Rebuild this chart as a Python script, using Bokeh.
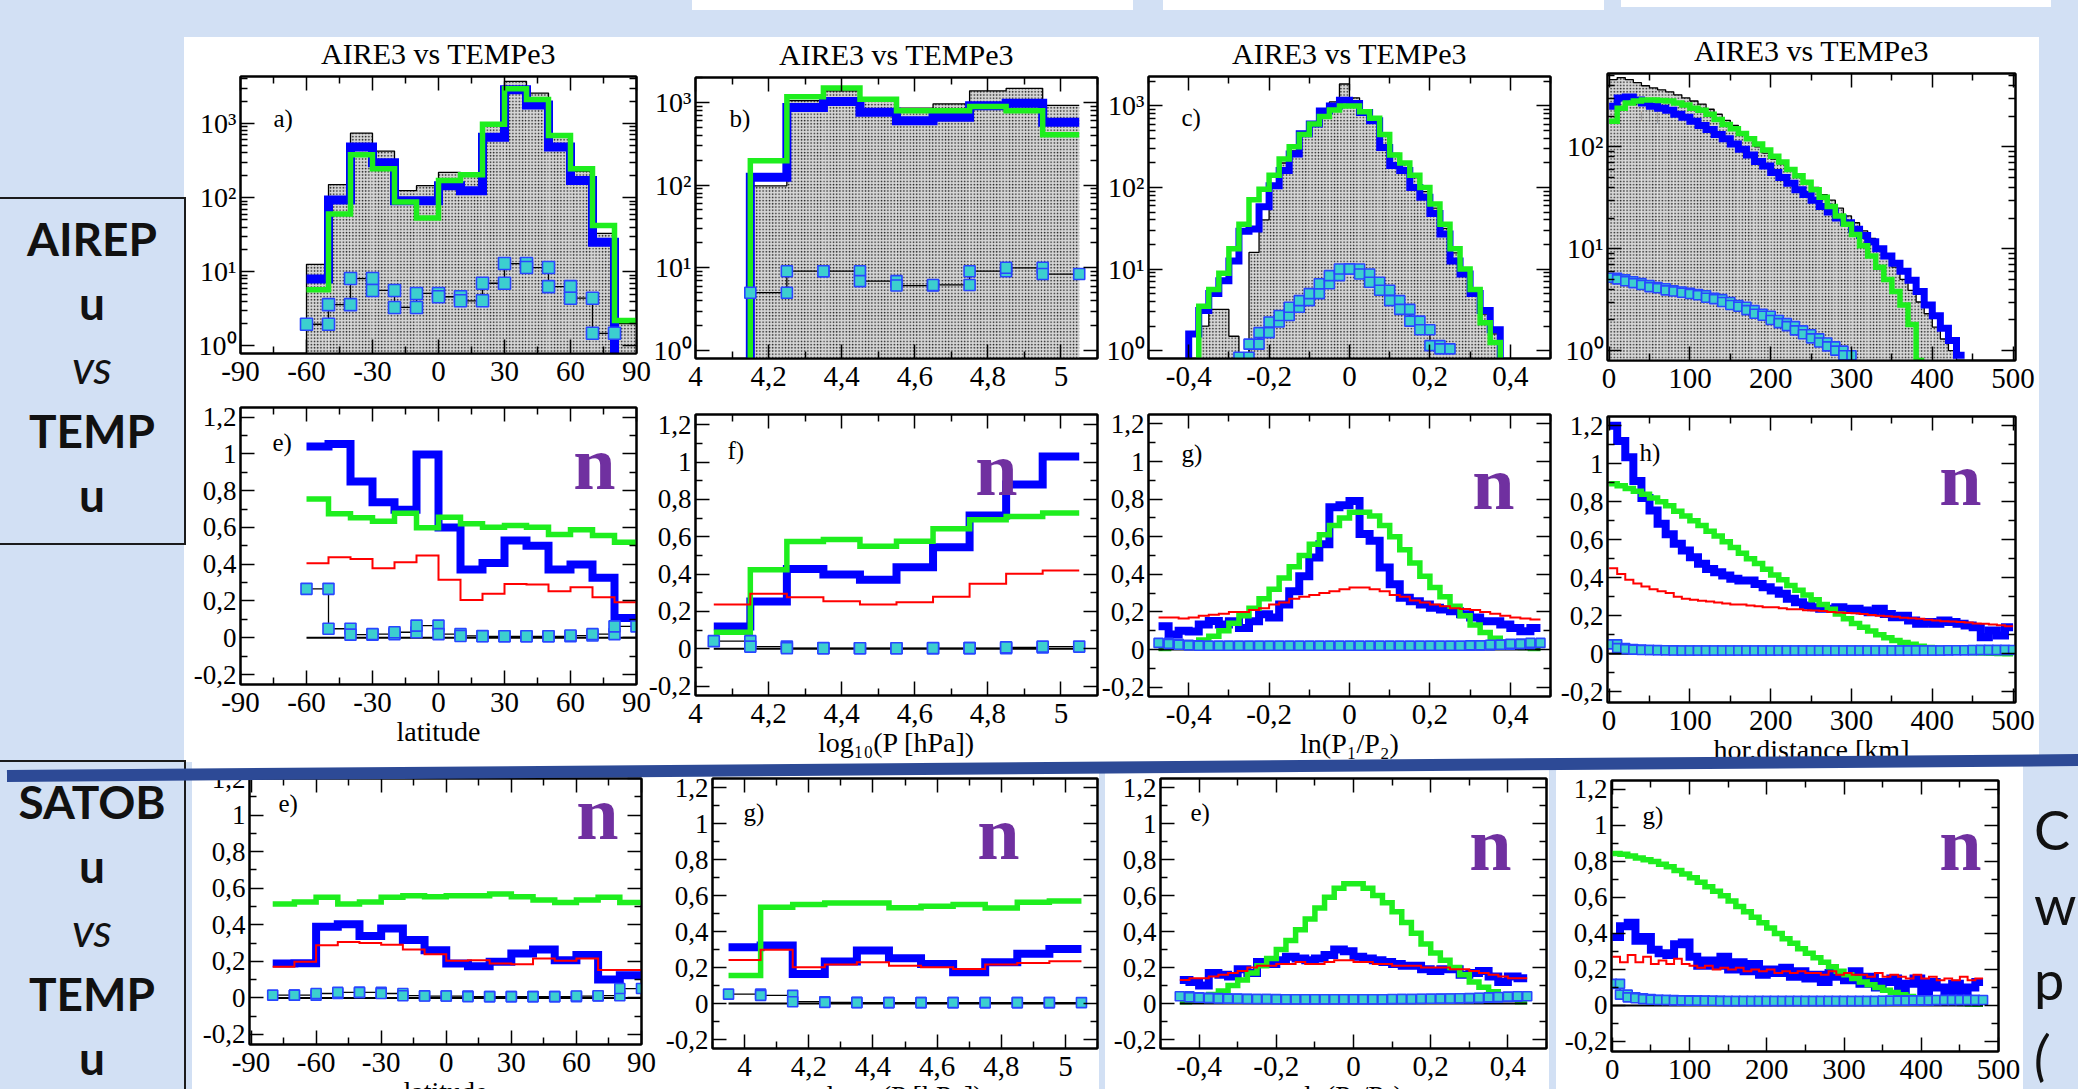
import math
from bokeh.plotting import figure
from bokeh.models import Range1d, LinearAxis, LogAxis, FixedTicker, CustomJSTickFormatter, Label, Div
from bokeh.layouts import column
from bokeh.embed import file_html
from bokeh.resources import INLINE

# ------------------------------------------------------------------ data
lat_edges = [-60, -50, -40, -30, -20, -10, 0, 10, 20, 30, 40, 50, 60, 70, 80, 90]
sat_lat_edges = [-80, -70, -60, -50, -40, -30, -20, -10, 0, 10, 20, 30, 40, 50, 60, 70, 80, 90]
logp_edges = [4.15, 4.25, 4.35, 4.45, 4.55, 4.65, 4.75, 4.85, 4.95, 5.05]
logp_edges_f = [4.05, 4.15, 4.25, 4.35, 4.45, 4.55, 4.65, 4.75, 4.85, 4.95, 5.05]
logp_edges_s = [3.95, 4.05, 4.15, 4.25, 4.35, 4.45, 4.55, 4.65, 4.75, 4.85, 4.95, 5.05]
c_edges = [round(-0.4 + 0.025 * i, 4) for i in range(33)]
g_edges = [round(-0.475 + 0.025 * i, 4) for i in range(39)]
e4_edges = [round(-0.45 + 0.025 * i, 4) for i in range(37)]
km_edges = [10 * i for i in range(51)]

# a) latitude histogram (counts)
a_gray = [12.6, 150, 740, 424, 124, 145, 219, 209, 995, 3700, 2570, 725, 228, 33, 2]
a_blue = [8, 93, 480, 295, 91, 91, 145, 124, 650, 2850, 1780, 480, 170, 25, 0.5]
a_green = [5.7, 60, 380, 245, 87, 53, 170, 204, 975, 2950, 2100, 690, 245, 42, 2.2]
a_mark = [1.96, 3.6, 8.1, 5.6, 3.3, 5.1, 4.6, 4.06, 7.0, 12.9, 11.4, 6.3, 4.4, 1.48]

# b) log10(P) histogram
b_gray = [98, 1050, 1380, 1050, 850, 960, 1380, 1480, 920]
b_blue = [124, 870, 1025, 760, 600, 660, 910, 975, 575]
b_green = [197, 1170, 1490, 1095, 790, 790, 890, 790, 405]
b_mark = [5.0, 9.1, 9.1, 6.9, 6.1, 6.2, 9.1, 10.0, 8.4]

# c) ln(P1/P2) histogram
c_gray = [0.63, 2, 3.2, 3.2, 1.5, 0.9, 16, 40, 100, 200, 282, 447, 631, 891, 1122, 1862,
          1259, 891, 708, 447, 263, 200, 132, 89, 56, 31.6, 15.8, 10, 5.6, 2.8, 1.6, 0.63]
c_blue = [1.6, 3.1, 5, 7.2, 12.6, 29, 31, 58, 105, 162, 257, 457, 603, 871, 1000, 1175,
          1072, 832, 661, 309, 186, 162, 100, 76, 48, 27, 12.6, 8.7, 5, 3.1, 1.8, 0.6]
c_green = [0.63, 3.5, 5.6, 8.9, 17.8, 35.5, 71, 95, 141, 224, 316, 447, 603, 741, 891, 1000,
           1000, 851, 708, 447, 251, 200, 141, 100, 63, 35.5, 17.8, 10, 5.6, 2.2, 1.26, 0.63]
c_mark = [0.83, 1.2, 1.66, 2.24, 2.7, 3.4, 4.1, 5.0, 6.6, 8.3, 10, 10, 8.7, 6.9, 5.5, 4.1,
          3.2, 2.3, 1.8, 1.15, 1.05]

# d) horizontal distance histogram
d_gray = [457, 479, 457, 427, 398, 380, 363, 347, 324, 302, 282, 263, 234, 209, 182, 162, 138,
          117, 100, 87, 76, 68, 59, 52, 46, 40, 34, 30, 25, 21, 18, 15, 12.6, 10.2, 8.3, 6.6,
          5.0, 3.9, 3.0, 2.3, 1.7, 1.3, 1.0, 0.8]
d_blue = [251, 302, 309, 288, 269, 251, 240, 229, 209, 195, 178, 162, 148, 132, 120, 107, 95,
          83, 72, 65, 56, 50, 44, 38, 34, 30, 26, 23, 20, 18, 15.5, 13.5, 11.7, 10, 8.5, 7.2,
          6.0, 4.9, 3.8, 2.8, 2.2, 1.66, 1.26, 0.9]
d_green = [178, 240, 269, 282, 288, 288, 285, 282, 269, 257, 240, 229, 209, 186, 166, 151, 135,
           120, 107, 93, 81, 71, 60, 52, 45, 38, 32, 26, 21, 17.4, 13.8, 10.7, 8.5, 6.6, 5.0,
           3.8, 2.8, 1.8, 0.8]
d_mark = [5.2, 5.0, 4.8, 4.6, 4.4, 4.2, 4.1, 3.9, 3.8, 3.7, 3.6, 3.5, 3.3, 3.2, 3.0, 2.8, 2.7,
          2.5, 2.3, 2.2, 2.0, 1.86, 1.74, 1.58, 1.45, 1.32, 1.2, 1.1, 1.0, 0.9]

# e) .. h) AIREP normalised statistics
e_blue = [1.04, 1.054, 0.85, 0.737, 0.696, 0.996, 0.60, 0.371, 0.407, 0.529, 0.50, 0.371, 0.398, 0.326, 0.107]
e_green = [0.755, 0.674, 0.652, 0.634, 0.677, 0.598, 0.655, 0.62, 0.601, 0.61, 0.601, 0.561, 0.587, 0.556, 0.52]
e_red = [0.405, 0.438, 0.429, 0.378, 0.411, 0.447, 0.315, 0.206, 0.239, 0.293, 0.29, 0.253, 0.275, 0.221, 0.193]
e_mark = [0.266, 0.049, 0.017, 0.02, 0.03, 0.066, 0.02, 0.01, 0.008, 0.008, 0.008, 0.008, 0.012, 0.02, 0.062]

f_blue = [0.119, 0.253, 0.428, 0.398, 0.37, 0.437, 0.544, 0.714, 0.88, 1.03]
f_green = [0.089, 0.423, 0.575, 0.585, 0.55, 0.576, 0.643, 0.691, 0.709, 0.728]
f_red = [0.237, 0.295, 0.276, 0.255, 0.237, 0.25, 0.279, 0.348, 0.402, 0.419]
f_mark = [0.041, 0.012, 0.004, 0.003, 0.003, 0.003, 0.004, 0.004, 0.008, 0.012]

g_blue = [0.124, 0.08, 0.10, 0.096, 0.133, 0.151, 0.133, 0.15, 0.115, 0.15,
          0.187, 0.17, 0.24, 0.31, 0.39, 0.49, 0.56, 0.756, 0.767, 0.79,
          0.614, 0.578, 0.436, 0.347, 0.275, 0.257, 0.24, 0.222, 0.213, 0.204,
          0.187, 0.17, 0.15, 0.15, 0.133, 0.115, 0.097, 0.115]
g_green = [0.005, 0.012, 0.02, 0.035, 0.05, 0.07, 0.1, 0.14, 0.18, 0.22,
           0.27, 0.32, 0.38, 0.44, 0.5, 0.56, 0.61, 0.66, 0.7, 0.73,
           0.73, 0.71, 0.66, 0.6, 0.53, 0.46, 0.39, 0.33, 0.28, 0.23,
           0.18, 0.13, 0.09, 0.06, 0.04, 0.02, 0.01, 0.005]
g_red = [0.17, 0.17, 0.165, 0.17, 0.18, 0.185, 0.19, 0.2, 0.2, 0.21,
         0.22, 0.24, 0.25, 0.27, 0.28, 0.29, 0.3, 0.31, 0.32, 0.33,
         0.33, 0.32, 0.31, 0.29, 0.28, 0.26, 0.25, 0.24, 0.23, 0.22,
         0.215, 0.21, 0.2, 0.19, 0.18, 0.17, 0.165, 0.16]
g_mark = [0.035, 0.03, 0.025, 0.022, 0.02, 0.02, 0.02, 0.02, 0.02, 0.02,
          0.02, 0.02, 0.02, 0.02, 0.02, 0.02, 0.02, 0.02, 0.02, 0.02,
          0.02, 0.02, 0.02, 0.02, 0.02, 0.02, 0.02, 0.02, 0.02, 0.02,
          0.02, 0.022, 0.022, 0.025, 0.025, 0.03, 0.03, 0.035]

h_blue = [1.2, 1.12, 1.035, 0.91, 0.82, 0.754, 0.684, 0.63, 0.579, 0.544,
          0.508, 0.474, 0.447, 0.43, 0.412, 0.395, 0.386, 0.386, 0.368, 0.35,
          0.333, 0.316, 0.29, 0.272, 0.254, 0.245, 0.237, 0.237, 0.245, 0.233,
          0.237, 0.228, 0.219, 0.237, 0.21, 0.193, 0.2, 0.175, 0.158, 0.167,
          0.158, 0.175, 0.167, 0.158, 0.149, 0.14, 0.087, 0.123, 0.096, 0.14]
h_green = [0.895, 0.885, 0.87, 0.855, 0.84, 0.82, 0.80, 0.78, 0.75, 0.725,
           0.70, 0.675, 0.645, 0.62, 0.59, 0.56, 0.53, 0.50, 0.475, 0.445,
           0.415, 0.39, 0.36, 0.335, 0.31, 0.285, 0.26, 0.235, 0.21, 0.185,
           0.16, 0.14, 0.12, 0.10, 0.085, 0.07, 0.06, 0.05, 0.04, 0.033,
           0.027, 0.021, 0.016, 0.012, 0.009, 0.006, 0.004, 0.003, 0.002, 0.001]
h_red = [0.45, 0.42, 0.39, 0.37, 0.355, 0.34, 0.33, 0.32, 0.30, 0.29,
         0.285, 0.28, 0.275, 0.27, 0.265, 0.26, 0.26, 0.255, 0.25, 0.245,
         0.245, 0.24, 0.235, 0.235, 0.23, 0.228, 0.225, 0.22, 0.218, 0.215,
         0.214, 0.21, 0.205, 0.2, 0.198, 0.195, 0.19, 0.188, 0.185, 0.18,
         0.175, 0.172, 0.17, 0.168, 0.165, 0.16, 0.158, 0.155, 0.15, 0.145]
h_mark = [0.05, 0.03, 0.025, 0.022, 0.02, 0.02, 0.019, 0.019, 0.018, 0.018,
          0.018, 0.018, 0.018, 0.018, 0.018, 0.018, 0.018, 0.018, 0.018, 0.018,
          0.018, 0.018, 0.018, 0.018, 0.018, 0.018, 0.018, 0.018, 0.018, 0.018,
          0.018, 0.018, 0.018, 0.018, 0.018, 0.018, 0.018, 0.018, 0.018, 0.018,
          0.018, 0.018, 0.019, 0.019, 0.019, 0.02, 0.02, 0.02, 0.02, 0.02]

# SATOB vs TEMP panels
s1_blue = [0.188, 0.19, 0.389, 0.403, 0.338, 0.38, 0.316, 0.261, 0.188, 0.173, 0.197, 0.243, 0.265, 0.206, 0.234, 0.1, 0.124]
s1_green = [0.513, 0.525, 0.55, 0.513, 0.525, 0.55, 0.558, 0.553, 0.558, 0.558, 0.568, 0.553, 0.535, 0.522, 0.535, 0.55, 0.522]
s1_red = [0.17, 0.197, 0.288, 0.305, 0.3, 0.29, 0.265, 0.239, 0.203, 0.206, 0.188, 0.184, 0.215, 0.203, 0.215, 0.152, 0.152]
s1_mark = [0.015, 0.015, 0.024, 0.03, 0.03, 0.024, 0.012, 0.01, 0.01, 0.007, 0.007, 0.007, 0.007, 0.007, 0.01, 0.012, 0.051]

s2_blue = [0.312, 0.322, 0.164, 0.233, 0.294, 0.251, 0.22, 0.173, 0.229, 0.276, 0.303]
s2_green = [0.155, 0.535, 0.55, 0.558, 0.558, 0.532, 0.54, 0.55, 0.53, 0.563, 0.569]
s2_red = [0.242, 0.298, 0.201, 0.216, 0.229, 0.21, 0.201, 0.192, 0.216, 0.225, 0.235]
s2_mark = [0.052, 0.045, 0.01, 0.006, 0.005, 0.005, 0.005, 0.005, 0.005, 0.005, 0.005]

s3_blue = [0.13, 0.12, 0.10, 0.17, 0.16, 0.15, 0.19, 0.17, 0.23, 0.22,
           0.24, 0.26, 0.25, 0.24, 0.25, 0.27, 0.30, 0.29, 0.26, 0.25,
           0.24, 0.23, 0.22, 0.21, 0.21, 0.19, 0.18, 0.19, 0.19, 0.16,
           0.17, 0.18, 0.15, 0.12, 0.15, 0.14]
s3_green = [0.01, 0.02, 0.035, 0.05, 0.07, 0.1, 0.13, 0.17, 0.21, 0.25,
            0.3, 0.35, 0.41, 0.47, 0.53, 0.59, 0.64, 0.665, 0.665, 0.64,
            0.6, 0.56, 0.51, 0.45, 0.39, 0.33, 0.28, 0.24, 0.2, 0.16,
            0.12, 0.09, 0.065, 0.04, 0.025, 0.01]
s3_red = [0.13, 0.14, 0.14, 0.15, 0.16, 0.17, 0.18, 0.2, 0.21, 0.21,
          0.22, 0.22, 0.23, 0.22, 0.22, 0.23, 0.24, 0.24, 0.23, 0.23,
          0.22, 0.22, 0.21, 0.21, 0.21, 0.2, 0.2, 0.2, 0.19, 0.19,
          0.18, 0.17, 0.16, 0.15, 0.14, 0.14]
s3_mark = [0.04, 0.035, 0.032, 0.03, 0.028, 0.027, 0.026, 0.025, 0.025, 0.025,
           0.024, 0.024, 0.024, 0.024, 0.024, 0.024, 0.024, 0.024, 0.024, 0.024,
           0.024, 0.024, 0.025, 0.025, 0.025, 0.026, 0.026, 0.027, 0.028, 0.029,
           0.03, 0.032, 0.034, 0.036, 0.038, 0.04]

s4_blue = [0.38, 0.44, 0.46, 0.36, 0.38, 0.31, 0.29, 0.28, 0.34, 0.35,
           0.27, 0.22, 0.25, 0.22, 0.27, 0.2, 0.24, 0.19, 0.23, 0.17,
           0.2, 0.18, 0.21, 0.16, 0.19, 0.15, 0.17, 0.13, 0.18, 0.16,
           0.14, 0.19, 0.12, 0.16, 0.1, 0.13, 0.15, 0.08, 0.12, 0.15,
           0.08, 0.13, 0.1, 0.07, 0.12, 0.06, 0.1, 0.13]
s4_green = [0.845, 0.84, 0.83, 0.82, 0.81, 0.80, 0.785, 0.77, 0.75, 0.73,
            0.71, 0.685, 0.66, 0.635, 0.61, 0.58, 0.55, 0.52, 0.49, 0.46,
            0.43, 0.40, 0.37, 0.345, 0.315, 0.29, 0.265, 0.24, 0.215, 0.19,
            0.17, 0.15, 0.13, 0.115, 0.1, 0.085, 0.072, 0.06, 0.05, 0.042,
            0.035, 0.028, 0.022, 0.018, 0.014, 0.011, 0.008, 0.006]
s4_red = [0.27, 0.24, 0.28, 0.24, 0.27, 0.23, 0.25, 0.23, 0.26, 0.23,
          0.22, 0.21, 0.22, 0.2, 0.21, 0.2, 0.21, 0.19, 0.2, 0.19,
          0.2, 0.18, 0.19, 0.18, 0.19, 0.18, 0.18, 0.17, 0.19, 0.17,
          0.18, 0.17, 0.17, 0.16, 0.18, 0.16, 0.17, 0.16, 0.15, 0.17,
          0.15, 0.16, 0.14, 0.15, 0.14, 0.16, 0.14, 0.15]
s4_mark = [0.12, 0.06, 0.045, 0.04, 0.035, 0.032, 0.03, 0.03, 0.028, 0.028,
           0.027, 0.027, 0.026, 0.026, 0.025, 0.025, 0.025, 0.025, 0.025, 0.025,
           0.025, 0.025, 0.025, 0.025, 0.025, 0.025, 0.025, 0.025, 0.025, 0.025,
           0.025, 0.025, 0.025, 0.025, 0.025, 0.026, 0.026, 0.027, 0.027, 0.028,
           0.028, 0.029, 0.03, 0.03, 0.03, 0.03, 0.03, 0.03]

# tick values
lat_ticks = [-90, -60, -30, 0, 30, 60, 90]
lat_minor = [-75, -45, -15, 15, 45, 75]
logp_ticks = [4, 4.2, 4.4, 4.6, 4.8, 5]
logp_minor = [3.9, 4.1, 4.3, 4.5, 4.7, 4.9, 5.1]
ln_ticks = [-0.4, -0.2, 0, 0.2, 0.4]
ln_minor = [-0.5, -0.3, -0.1, 0.1, 0.3, 0.5]
km_ticks = [0, 100, 200, 300, 400, 500]
km_minor = [50, 150, 250, 350, 450]
n_ticks = [-0.2, 0, 0.2, 0.4, 0.6, 0.8, 1.0, 1.2]
n_minor = [-0.1, 0.1, 0.3, 0.5, 0.7, 0.9, 1.1]
dec_ticks = [1, 10, 100, 1000]
dec_minor = [m * 10 ** k for k in range(4) for m in range(2, 10)]

# ------------------------------------------------------------------ style
BG = "#D2E0F4"
BLUE = "#0000FF"
GREEN = "#1EEE1E"
RED = "#FF0000"
CYAN = "#3CCFCF"
MEDGE = "#2846FF"
PURPLE = "#7030A0"
SERIF = "Liberation Serif"
TITLE = "AIRE3 vs TEMPe3"


def absstyle(l, t, extra=None):
    s = {"position": "absolute", "left": f"{l}px", "top": f"{t}px"}
    if extra:
        s.update(extra)
    return s


def step_xy(edges, vals, floor_start=None, floor_end=None):
    xs, ys = [], []
    if floor_start is not None:
        xs.append(edges[0]); ys.append(floor_start)
    for i, v in enumerate(vals):
        xs += [edges[i], edges[i + 1]]
        ys += [v, v]
    if floor_end is not None:
        xs.append(edges[len(vals)]); ys.append(floor_end)
    return xs, ys


def to_data(P, px, py):
    l, t, r, b = P["frame"]
    x0, x1 = P["xr"]
    y0, y1 = P["yr"]
    x = x0 + (px - l) / (r - l) * (x1 - x0)
    if P["log"]:
        a0, a1 = math.log10(y0), math.log10(y1)
        y = 10 ** (a0 + (b - py) / (b - t) * (a1 - a0))
    else:
        y = y0 + (b - py) / (b - t) * (y1 - y0)
    return x, y


COMMA_JS = "const r = Math.round(tick * 10) / 10; return String(r).replace('.', ',');"
LOG_JS = ("const s = {'0':'\u2070','1':'\u00b9','2':'\u00b2','3':'\u00b3'};"
          "const e = Math.round(Math.log10(tick)); return '10' + s[String(e)];")
EMPTY_JS = "return '';"


def style_axis(ax, ticks, minor, code, size, show=True, standoff=7):
    ax.ticker = FixedTicker(ticks=ticks, minor_ticks=minor)
    ax.major_tick_in = 14
    ax.major_tick_out = 0
    ax.minor_tick_in = 7
    ax.minor_tick_out = 0
    ax.axis_line_width = 2
    ax.axis_line_color = "black"
    ax.major_tick_line_width = 1.5
    ax.minor_tick_line_width = 1.5
    ax.major_tick_line_color = "black"
    ax.minor_tick_line_color = "black"
    if show:
        ax.formatter = CustomJSTickFormatter(code=code)
        ax.major_label_text_font = SERIF
        ax.major_label_text_font_size = size
        ax.major_label_text_color = "black"
        ax.major_label_standoff = standoff
    else:
        ax.formatter = CustomJSTickFormatter(code=EMPTY_JS)
        ax.major_label_text_font_size = "0px"
        ax.major_label_standoff = 0


PANELS = [
    dict(frame=(240, 76, 636, 353), xr=(-90, 90), yr=(0.79, 4300), log=True, row=1,
         xt=(lat_ticks, lat_minor), letter=("a)", 273, 118), n=None, xlabel=None, msize=12, bw=9,
         series=[("gray", lat_edges, a_gray, "s"), ("blue", lat_edges, a_blue, ""),
                 ("green", lat_edges, a_green, ""), ("mark", lat_edges, a_mark, "")]),
    dict(frame=(695, 77, 1097, 358), xr=(4.0, 5.1), yr=(0.8, 2000), log=True, row=1,
         xt=(logp_ticks, logp_minor), letter=("b)", 729, 118), n=None, xlabel=None, msize=11, bw=9,
         series=[("gray", logp_edges, b_gray, "s"), ("blue", logp_edges, b_blue, "s"),
                 ("green", logp_edges, b_green, "s"), ("mark", logp_edges, b_mark, "")]),
    dict(frame=(1148, 76, 1550, 358), xr=(-0.5, 0.5), yr=(0.8, 2300), log=True, row=1,
         xt=(ln_ticks, ln_minor), letter=("c)", 1181, 117), n=None, xlabel=None, msize=10, bw=7,
         series=[("gray", c_edges, c_gray, "s"), ("blue", c_edges, c_blue, "s"),
                 ("green", c_edges, c_green, "s"), ("mark", c_edges[5:], c_mark, "")]),
    dict(frame=(1607, 73, 2015, 360), xr=(-2, 503), yr=(0.8, 525), log=True, row=1,
         xt=(km_ticks, km_minor), letter=("d)", 1639, 113), n=None, xlabel=None, msize=9, bw=7,
         series=[("gray", km_edges, d_gray, ""), ("blue", km_edges, d_blue, ""),
                 ("green", km_edges, d_green, ""), ("mark", km_edges, d_mark, "")]),
    dict(frame=(240, 407, 636, 684), xr=(-90, 90), yr=(-0.254, 1.252), log=False, row=2,
         xt=(lat_ticks, lat_minor), letter=("e)", 272, 442), n=(594, 462), xlabel="latitude", msize=11, bw=8,
         series=[("blue", lat_edges, e_blue, ""), ("green", lat_edges, e_green, ""),
                 ("red", lat_edges, e_red, ""), ("mark", lat_edges, e_mark, "")]),
    dict(frame=(695, 414, 1097, 695), xr=(4.0, 5.1), yr=(-0.25, 1.255), log=False, row=2,
         xt=(logp_ticks, logp_minor), letter=("f)", 727, 450), n=(996, 468),
         xlabel="log\u2081\u2080(P [hPa])", msize=11, bw=8,
         series=[("blue", logp_edges_f, f_blue, ""), ("green", logp_edges_f, f_green, ""),
                 ("red", logp_edges_f, f_red, ""), ("mark", logp_edges_f, f_mark, "")]),
    dict(frame=(1148, 414, 1550, 696), xr=(-0.5, 0.5), yr=(-0.25, 1.25), log=False, row=2,
         xt=(ln_ticks, ln_minor), letter=("g)", 1181, 453), n=(1493, 482),
         xlabel="ln(P\u2081/P\u2082)", msize=9, bw=8,
         series=[("blue", g_edges, g_blue, ""), ("green", g_edges, g_green, ""),
                 ("red", g_edges, g_red, ""), ("mark", g_edges, g_mark, "")]),
    dict(frame=(1607, 416, 2015, 702), xr=(-2, 503), yr=(-0.256, 1.249), log=False, row=2,
         xt=(km_ticks, km_minor), letter=("h)", 1639, 452), n=(1960, 478),
         xlabel="hor.distance [km]", msize=9, bw=8,
         series=[("blue", km_edges, h_blue, ""), ("green", km_edges, h_green, ""),
                 ("red", km_edges, h_red, ""), ("mark", km_edges, h_mark, "")]),
    dict(frame=(249, 778, 641, 1044), xr=(-90.7, 90), yr=(-0.255, 1.2), log=False, row=3,
         xt=(lat_ticks, lat_minor), letter=("e)", 278, 803), n=(597, 812), xlabel="latitude", msize=10, bw=8,
         series=[("blue", sat_lat_edges, s1_blue, ""), ("green", sat_lat_edges, s1_green, ""),
                 ("red", sat_lat_edges, s1_red, ""), ("mark", sat_lat_edges, s1_mark, "")]),
    dict(frame=(712, 778, 1097, 1048), xr=(3.9, 5.1), yr=(-0.25, 1.25), log=False, row=3,
         xt=(logp_ticks, logp_minor), letter=("g)", 743, 812), n=(998, 832),
         xlabel="log\u2081\u2080(P [hPa])", msize=10, bw=8,
         series=[("blue", logp_edges_s, s2_blue, ""), ("green", logp_edges_s, s2_green, ""),
                 ("red", logp_edges_s, s2_red, ""), ("mark", logp_edges_s, s2_mark, "")]),
    dict(frame=(1160, 778, 1546, 1048), xr=(-0.5, 0.5), yr=(-0.25, 1.25), log=False, row=3,
         xt=(ln_ticks, ln_minor), letter=("e)", 1190, 812), n=(1490, 843),
         xlabel="ln(P\u2081/P\u2082)", msize=9, bw=8,
         series=[("blue", e4_edges, s3_blue, ""), ("green", e4_edges, s3_green, ""),
                 ("red", e4_edges, s3_red, ""), ("mark", e4_edges, s3_mark, "")]),
    dict(frame=(1611, 780, 1998, 1051), xr=(-1, 500), yr=(-0.256, 1.25), log=False, row=3,
         xt=(km_ticks, km_minor), letter=("g)", 1642, 815), n=(1960, 843),
         xlabel="hor.distance [km]", msize=9, bw=8,
         series=[("blue", km_edges, s4_blue, ""), ("green", km_edges, s4_green, ""),
                 ("red", km_edges, s4_red, ""), ("mark", km_edges, s4_mark, "")]),
]


def make_panel(P):
    l, t, r, b = P["frame"]
    cl = l - 62
    cr = min(r + 24, 2078)
    if P["row"] == 1:
        ct, cb = 0, b + 46
    elif P["row"] == 2:
        ct, cb = t - 26, b + 80
    else:
        ct, cb = t - 24, b + 92
    p = figure(width=cr - cl, height=cb - ct,
               x_range=Range1d(*P["xr"]), y_range=Range1d(*P["yr"]),
               y_axis_type="log" if P["log"] else "linear",
               output_backend="svg", toolbar_location=None,
               min_border_left=l - cl, min_border_right=cr - r,
               min_border_top=t - ct, min_border_bottom=cb - b,
               background_fill_color="white", border_fill_alpha=0,
               outline_line_color="black", outline_line_width=2,
               margin=0, styles=absstyle(cl, ct))
    p.xgrid.visible = False
    p.ygrid.visible = False

    xt, xm = P["xt"]
    if P["log"]:
        yt, ym, ycode, ysize = dec_ticks, dec_minor, LOG_JS, "28px"
        ry = LogAxis()
    else:
        yt, ym, ycode, ysize = n_ticks, n_minor, COMMA_JS, "27px"
        ry = LinearAxis()
    style_axis(p.below[0], xt, xm, COMMA_JS, "29px", standoff=8)
    style_axis(p.left[0], yt, ym, ycode, ysize, standoff=4)
    tx = LinearAxis()
    p.add_layout(tx, "above")
    p.add_layout(ry, "right")
    style_axis(tx, xt, xm, EMPTY_JS, "0px", show=False)
    style_axis(ry, yt, ym, EMPTY_JS, "0px", show=False)

    if P["xlabel"]:
        ax = p.below[0]
        ax.axis_label = P["xlabel"]
        ax.axis_label_text_font = SERIF
        ax.axis_label_text_font_size = "28px"
        ax.axis_label_text_font_style = "normal"
        ax.axis_label_text_color = "black"
        ax.axis_label_standoff = 1

    if P["row"] == 1:
        p.title.text = TITLE
        p.title.align = "center"
        p.title.text_font = SERIF
        p.title.text_font_size = "30px"
        p.title.text_font_style = "normal"
        p.title.text_color = "black"
        p.title.standoff = 14

    # letter label
    txt, lx, ly = P["letter"]
    x, y = to_data(P, lx, ly)
    p.add_layout(Label(x=x, y=y, text=txt, text_font=SERIF, text_font_size="25px",
                       text_color="black", text_align="left", text_baseline="middle",
                       level="underlay"))

    floor = P["yr"][0] * 0.3 if P["log"] else None
    for kind, edges, vals, fl in P["series"]:
        if kind == "gray":
            n = len(vals)
            p.quad(left=edges[:n], right=edges[1:n + 1], bottom=floor, top=vals,
                   fill_color="#d6d6d6", hatch_pattern="dot", hatch_color="#1a1a1a",
                   hatch_scale=3.2, hatch_weight=1.1, line_color=None)
            xs, ys = step_xy(edges, vals, floor if fl == "s" else None)
            p.line(xs, ys, line_color="black", line_width=1.3)
        elif kind in ("blue", "green", "red"):
            col = {"blue": BLUE, "green": GREEN, "red": RED}[kind]
            lw = {"blue": P["bw"], "green": 5.5, "red": 2}[kind]
            xs, ys = step_xy(edges, vals, floor if fl == "s" else None)
            p.line(xs, ys, line_color=col, line_width=lw, line_join="miter")
        elif kind == "mark":
            n = len(vals)
            if not P["log"]:
                p.segment(x0=[edges[0]], y0=[0], x1=[edges[n]], y1=[0],
                          line_color="black", line_width=2)
            xs, ys = step_xy(edges, vals)
            p.line(xs, ys, line_color="black", line_width=1.3)
            p.scatter(xs, ys, marker="square", size=P["msize"], fill_color=CYAN,
                      line_color=MEDGE, line_width=1.6)

    if P["n"]:
        x, y = to_data(P, *P["n"])
        p.add_layout(Label(x=x, y=y, text="n", text_font=SERIF, text_font_size="76px",
                           text_font_style="bold", text_color=PURPLE,
                           text_align="center", text_baseline="alphabetic"))
    return p


# ------------------------------------------------------------------ page pieces
children = []


def rect(l, t, w, h, color):
    children.append(Div(text="", width=w, height=h, margin=0,
                        styles=absstyle(l, t, {"background-color": color})))


rect(692, 0, 441, 10, "white")
rect(1163, 0, 441, 10, "white")
rect(1621, 0, 430, 7, "white")
rect(184, 37, 1855, 725, "white")
rect(192, 762, 907, 327, "white")
rect(1105, 762, 444, 327, "white")
rect(1556, 762, 467, 327, "white")

LBL_HTML = ('<div style="display:block; width:184px; font-family:Lato; font-weight:bold; '
            'font-size:46px; line-height:64px; text-align:center; padding-top:{pad}px; color:#111;">'
            '{first}<br>u<br>'
            '<span style="font-style:italic; font-weight:normal;">vs</span><br>TEMP<br>u</div>')
children.append(Div(text=LBL_HTML.format(pad=8, first="AIREP"), width=188, height=348, margin=0,
                    styles=absstyle(-2, 197, {"border": "2px solid #1b1b1b", "box-sizing": "border-box",
                                              "background-color": BG, "text-align": "center"})))
children.append(Div(text=LBL_HTML.format(pad=8, first="SATOB"), width=188, height=340, margin=0,
                    styles=absstyle(-2, 760, {"border": "2px solid #1b1b1b", "box-sizing": "border-box",
                                              "background-color": BG, "text-align": "center"})))

for P in PANELS:
    children.append(make_panel(P))

children.append(Div(text="", width=2090, height=12, margin=0,
                    styles=absstyle(7, 770, {"background-color": "#2D4A96",
                                             "transform": "rotate(-0.44deg)",
                                             "transform-origin": "0 50%"})))
children.append(Div(text="C<br>w<br>p<br><i>(</i>", width=44, height=303, margin=0,
                    styles=absstyle(2034, 792, {"overflow": "hidden", "font-family": "Lato",
                                                "font-size": "54px", "line-height": "75px",
                                                "white-space": "nowrap", "color": "#111"})))

root = column(children=children, width=2078, height=1089, margin=0,
              styles={"position": "relative", "background-color": BG, "overflow": "hidden"})

open("out.html", "w", encoding="utf-8").write(file_html(root, INLINE, title="AIREP vs TEMP"))
